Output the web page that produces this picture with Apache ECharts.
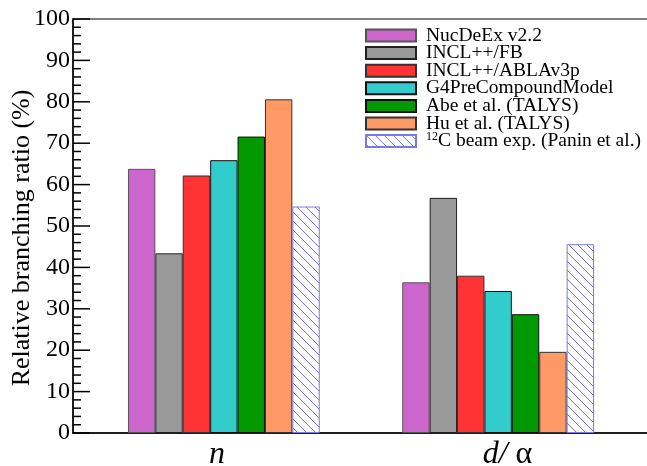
<!DOCTYPE html>
<html>
<head>
<meta charset="utf-8">
<script src="https://cdn.jsdelivr.net/npm/echarts@6/dist/echarts.min.js"></script>
<style>html,body{margin:0;padding:0;background:#fff}#c{width:647px;height:466px}</style>
</head>
<body>
<div id="c"></div>
<script>
// Data
var categories = ['n', 'd/α'];
var categoryPositions = [1, 2];
var seriesNames = ['NucDeEx v2.2', 'INCL++/FB', 'INCL++/ABLAv3p', 'G4PreCompoundModel', 'Abe et al. (TALYS)', 'Hu et al. (TALYS)', '12C beam exp. (Panin et al.)'];
var nucdeex = [63.8, 36.4];
var inclFB = [43.4, 56.8];
var inclABLA = [62.2, 38.0];
var g4pre = [65.9, 34.3];
var abe = [71.6, 28.7];
var hu = [80.6, 19.6];
var panin = [54.7, 45.6];
var yTicks = [0, 10, 20, 30, 40, 50, 60, 70, 80, 90, 100];

var seriesValues = [nucdeex, inclFB, inclABLA, g4pre, abe, hu, panin];
var colors = ['#cc66cc', '#999999', '#ff3333', '#33cccc', '#009900', '#ff9966', null];
var borders = ['#555555', '#222222', '#333333', '#111111', '#111111', '#333333', '#7a7ae6'];

// hatch pattern
var pc = document.createElement('canvas');
pc.width = 9; pc.height = 9;
var pctx = pc.getContext('2d');
pctx.fillStyle = '#ffffff';
pctx.fillRect(0, 0, 9, 9);
pctx.strokeStyle = '#6f6fe0';
pctx.lineWidth = 1;
pctx.beginPath();
pctx.moveTo(-1, -1); pctx.lineTo(10, 10);
pctx.moveTo(-1, 8); pctx.lineTo(1, 10);
pctx.moveTo(8, -1); pctx.lineTo(10, 1);
pctx.stroke();

var serif = '"Liberation Serif", "DejaVu Serif", serif';
var X_MIN = 0.45, X_MAX = 2.55;

var chart = echarts.init(document.getElementById('c'), null, {renderer: 'canvas'});
var series = seriesNames.map(function (name, i) {
  return {
    name: name,
    type: 'bar',
    xAxisIndex: 0,
    yAxisIndex: 0,
    barWidth: 27.4,
    barGap: '0%',
    data: seriesValues[i].map(function (v, j) { return [categoryPositions[j], v]; }),
    itemStyle: {
      color: colors[i] ? colors[i] : {image: pc, repeat: 'repeat'},
      borderColor: borders[i],
      borderWidth: 1
    },
    emphasis: {disabled: true}
  };
});

// y-axis ticks (major every 10 with length 17, minor every 2 with length 8), placed via the y scale
var tickData = [];
yTicks.forEach(function (v, k) {
  tickData.push([X_MIN, v, 17]);
  if (k < yTicks.length - 1) {
    for (var m = 1; m < 5; m++) tickData.push([X_MIN, v + m * (yTicks[k + 1] - v) / 5, 8]);
  }
});
series.push({
  type: 'custom',
  name: '__ticks',
  xAxisIndex: 0,
  yAxisIndex: 0,
  clip: false,
  silent: true,
  z: 5,
  data: tickData,
  renderItem: function (params, api) {
    var p = api.coord([api.value(0), api.value(1)]);
    var len = api.value(2);
    return {
      type: 'line',
      shape: {x1: p[0], y1: p[1], x2: p[0] + len, y2: p[1]},
      style: {stroke: '#000', lineWidth: 1.5}
    };
  }
});

chart.setOption({
  animation: false,
  grid: [
    {left: 73, right: -2, top: 19, bottom: 33, outerBoundsMode: 'none',
     show: true, borderColor: '#555', borderWidth: 1.5, backgroundColor: 'transparent'},
    {left: 71.75, right: -5.75, top: 19, bottom: 33, outerBoundsMode: 'none'}
  ],
  legend: {
    orient: 'vertical',
    left: 360,
    top: 20.5,
    icon: 'rect',
    itemWidth: 50,
    itemHeight: 12,
    itemGap: -2.4,
    data: seriesNames,
    formatter: function (name) {
      if (name.indexOf('12C') === 0) return '{sup|12}{t0|C beam exp. (Panin et al.)}';
      return '{t|' + name + '}';
    },
    textStyle: {
      fontFamily: serif,
      fontSize: 19.5,
      color: '#000',
      rich: {
        t: {fontFamily: serif, fontSize: 19.5, color: '#000', padding: [0, 0, 0, 5]},
        t0: {fontFamily: serif, fontSize: 19.5, color: '#000'},
        sup: {fontFamily: serif, fontSize: 12, color: '#000', verticalAlign: 'top', padding: [0, 0, 6, 5]}
      }
    },
    selectedMode: false
  },
  xAxis: [{
    type: 'value',
    gridIndex: 0,
    min: X_MIN,
    max: X_MAX,
    axisLine: {show: true, onZero: false, lineStyle: {color: '#000', width: 1.5}},
    axisTick: {show: false},
    splitLine: {show: false},
    axisLabel: {show: false}
  }, {
    type: 'category',
    gridIndex: 1,
    data: categories,
    axisLine: {show: false},
    axisTick: {show: false},
    splitLine: {show: false},
    axisLabel: {
      show: true,
      margin: 6,
      formatter: function (v) {
        if (v === categories[0]) return '{it|' + v + '}';
        return '{it|d/}{up| α}';
      },
      rich: {
        it: {fontFamily: serif, fontStyle: 'italic', fontSize: 32, color: '#000'},
        up: {fontFamily: serif, fontSize: 32, color: '#000'}
      }
    }
  }],
  yAxis: [{
    type: 'value',
    gridIndex: 0,
    min: 0,
    max: 100,
    interval: 10,
    name: 'Relative branching ratio (%)',
    nameLocation: 'middle',
    nameGap: 38,
    nameRotate: 90,
    nameMoveOverlap: false,
    nameTextStyle: {fontFamily: serif, fontSize: 26, color: '#000', padding: [0, 24, 0, 0]},
    axisLine: {show: true, onZero: false, lineStyle: {color: '#000', width: 1.5}},
    axisTick: {show: false},
    minorTick: {show: false},
    splitLine: {show: false},
    axisLabel: {fontFamily: serif, fontSize: 24, color: '#000', margin: 3}
  }, {
    type: 'value', gridIndex: 1, min: 0, max: 100, show: false
  }],
  series: series
});
</script>
</body>
</html>
